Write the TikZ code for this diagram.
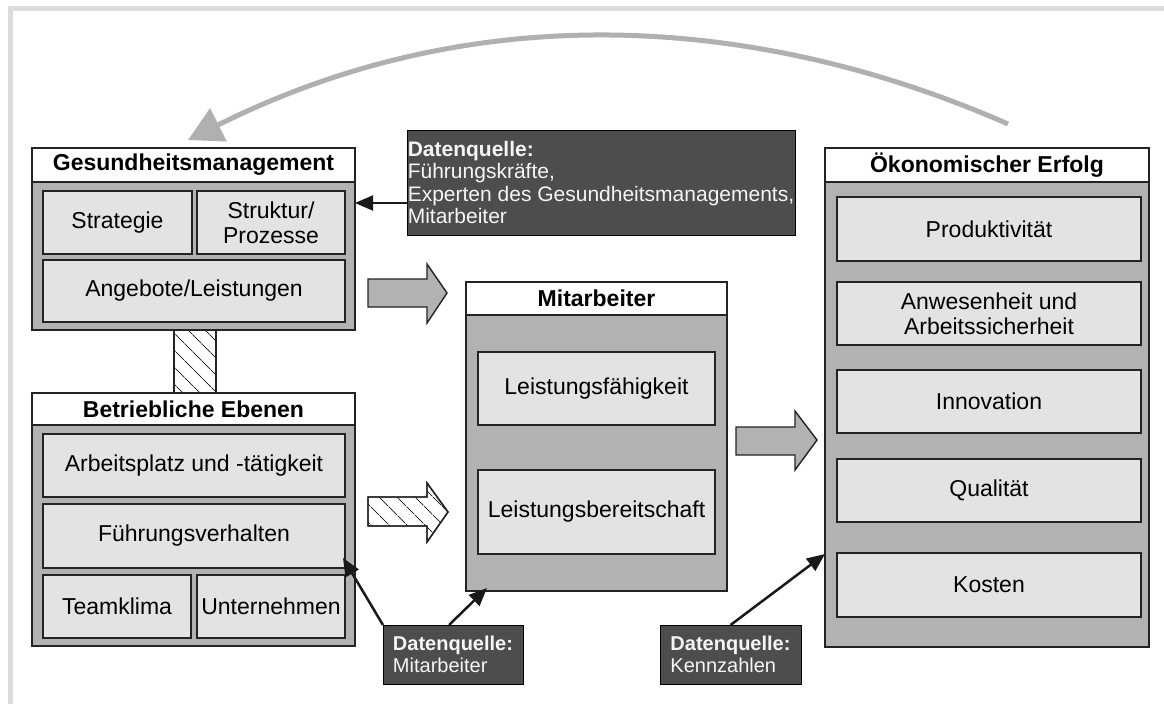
\documentclass[tikz,border=0pt]{standalone}
\usepackage{fontspec}
\setmainfont{Liberation Sans}
\usetikzlibrary{arrows.meta,patterns.meta}
\definecolor{framegray}{RGB}{220,220,220}
\definecolor{bodygray}{RGB}{178,178,178}
\definecolor{cellgray}{RGB}{227,227,227}
\definecolor{srcgray}{RGB}{77,77,77}
\definecolor{edgegray}{RGB}{35,35,35}
\definecolor{loopgray}{RGB}{176,176,176}
\begin{document}
\begin{tikzpicture}[x=1pt,y=-1pt,
  every node/.style={inner sep=0pt, outer sep=0pt},
  titlebox/.style={draw=edgegray, line width=1.4pt, fill=white, anchor=north west,
    font=\fontsize{23}{25}\selectfont\bfseries},
  bodybox/.style={draw=edgegray, line width=1.4pt, fill=bodygray, anchor=north west},
  cell/.style={draw=edgegray, line width=1.4pt, fill=cellgray, anchor=north west,
    align=center, font=\fontsize{23}{25}\selectfont},
  srcbox/.style={draw=black, line width=1pt, fill=srcgray, text=white!96!black,
    anchor=north west, align=left},
  blockarrow/.style={draw=edgegray, line width=1.4pt, line join=miter},
  hatch/.style={pattern={Lines[angle=-45,distance=13pt,line width=1.1pt]},
    pattern color=edgegray},
  srcarrow/.style={draw=black!90, line width=2.5pt,
    -{Triangle[length=18pt 0 0,width=15pt 0 0]}},
]
\useasboundingbox (0,0) rectangle (1164,704);

% light frame along top and left edge
\draw[framegray, line width=5pt] (10.5,704) -- (10.5,8.5) -- (1164,8.5);

% hatched link between the two left blocks
\node[draw=edgegray, line width=1.4pt, hatch, minimum width=42pt, minimum height=63pt,
  anchor=north west] (link) at (174,330) {};

% Gesundheitsmanagement
\node[titlebox, minimum width=323pt, minimum height=34pt] (gtitle) at (32,148) {Gesundheitsmanagement};
\node[bodybox, minimum width=323pt, minimum height=148pt] (gbody) at (32,182) {};
\node[cell, minimum width=149pt, minimum height=63pt] (strat) at (43,191) {Strategie};
\node[cell, minimum width=148pt, minimum height=63pt] (struk) at (197,191) {Struktur/\\Prozesse};
\node[cell, minimum width=302pt, minimum height=62pt] (angeb) at (43,260) {Angebote/Leistungen};

% Betriebliche Ebenen
\node[titlebox, minimum width=323pt, minimum height=32pt] (btitle) at (32,393) {Betriebliche Ebenen};
\node[bodybox, minimum width=323pt, minimum height=221pt] (bbody) at (32,425) {};
\node[cell, minimum width=302pt, minimum height=63pt] (arbpl) at (43,434) {Arbeitsplatz und -tätigkeit};
\node[cell, minimum width=302pt, minimum height=64pt] (fuehr) at (43,504) {Führungsverhalten};
\node[cell, minimum width=148pt, minimum height=63pt] (team) at (43,575) {Teamklima};
\node[cell, minimum width=148pt, minimum height=63pt] (untern) at (197,575) {Unternehmen};

% Mitarbeiter
\node[titlebox, minimum width=261pt, minimum height=33pt] (mtitle) at (466,282) {Mitarbeiter};
\node[bodybox, minimum width=261pt, minimum height=276pt] (mbody) at (466,315) {};
\node[cell, minimum width=237pt, minimum height=73pt] (lfaeh) at (478,352) {Leistungsfähigkeit};
\node[cell, minimum width=237pt, minimum height=84pt] (lbereit) at (478,470) {Leistungsbereitschaft};

% Oekonomischer Erfolg
\node[titlebox, minimum width=324pt, minimum height=34pt] (etitle) at (825,148) {Ökonomischer Erfolg};
\node[bodybox, minimum width=324pt, minimum height=465pt] (ebody) at (825,182) {};
\node[cell, minimum width=304pt, minimum height=64pt] (prod) at (837,197) {Produktivität};
\node[cell, minimum width=304pt, minimum height=63pt] (anwes) at (837,282) {Anwesenheit und\\Arbeitssicherheit};
\node[cell, minimum width=304pt, minimum height=63pt] (innov) at (837,370) {Innovation};
\node[cell, minimum width=304pt, minimum height=63pt] (qual) at (837,459) {Qualität};
\node[cell, minimum width=304pt, minimum height=64pt] (kost) at (837,553) {Kosten};

% data sources
\node[srcbox, minimum width=388pt, minimum height=105pt, font=\fontsize{21}{22.5}\selectfont]
  (dqa) at (407,130) {\textbf{Datenquelle:}\\Führungskräfte,\\Experten des Gesundheitsmanagements,\\Mitarbeiter};
\node[srcbox, minimum width=140pt, minimum height=59pt, font=\fontsize{20}{22}\selectfont]
  (dqb) at (383,625) {\textbf{Datenquelle:}\\Mitarbeiter};
\node[srcbox, minimum width=141pt, minimum height=59pt, font=\fontsize{20}{22}\selectfont]
  (dqc) at (660,625) {\textbf{Datenquelle:}\\Kennzahlen};

% block arrows
\draw[blockarrow, fill=bodygray] (368,279) -- (427,279) -- (427,264) -- (447,293)
  -- (427,323) -- (427,307) -- (368,307) -- cycle;
\draw[blockarrow, fill=bodygray] (736,427) -- (795,427) -- (795,411) -- (817,440)
  -- (795,470) -- (795,455) -- (736,455) -- cycle;
\draw[blockarrow, hatch] (368,497) -- (427,497) -- (427,483) -- (448,512)
  -- (427,542) -- (427,526) -- (368,526) -- cycle;
\draw[blockarrow] (368,497) -- (427,497) -- (427,483) -- (448,512)
  -- (427,542) -- (427,526) -- (368,526) -- cycle;

% data source arrows
\draw[srcarrow, line width=2pt] (dqa.west |- 0,203) -- (gbody.east |- 0,203);
\draw[srcarrow] (dqb.north west) -- ([shift={(-2,-10)}]fuehr.south east);
\draw[srcarrow] ([xshift=-4pt]dqb.north) -- ([shift={(21,-3)}]mbody.south west);
\draw[srcarrow] (dqc.north) -- (ebody.west |- 0,554);

% feedback loop
\coordinate (loopstart) at (1008,124);
\coordinate (looptip) at (188,140);
\draw[loopgray, line width=5pt, -{Triangle[length=34pt 0 0,width=36pt 0 0]}]
  (loopstart) .. controls (790,28) and (500,-16) .. (looptip);
\end{tikzpicture}
\end{document}
